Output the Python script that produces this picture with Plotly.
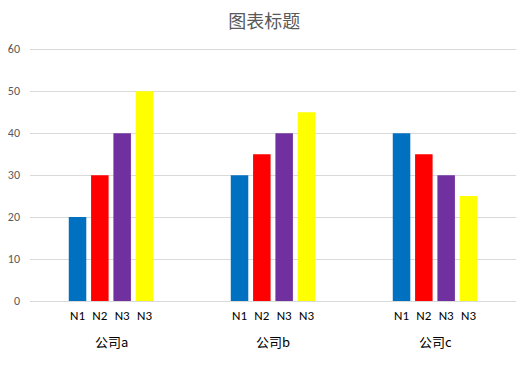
import plotly.graph_objects as go

companies = ["公司a", "公司b", "公司c"]
series_names = ["N1", "N2", "N3", "N3"]
series_values = [
    [20, 30, 40],
    [30, 35, 35],
    [40, 40, 30],
    [50, 45, 25],
]
series_colors = ["#0070C0", "#FF0000", "#7030A0", "#FFFF00"]
y_ticks = [0, 10, 20, 30, 40, 50, 60]

BARGAP = 0.449
BARGROUPGAP = 0.215
n_series = len(series_names)
pitch = (1 - BARGAP) / n_series

font_fam = "Carlito, Calibri, Liberation Sans, Noto Sans CJK SC, sans-serif"

W, H = 523, 363  # page body has an 8px margin

fig = go.Figure()
group_idx = list(range(len(companies)))
for i, (name, vals, col) in enumerate(zip(series_names, series_values, series_colors)):
    fig.add_trace(go.Bar(x=group_idx, y=vals, name=name, marker=dict(color=col, line=dict(width=0)),
                         offsetgroup=str(i)))

tickvals, ticktext = [], []
for g in group_idx:
    for i, name in enumerate(series_names):
        tickvals.append(g + (i - (n_series - 1) / 2) * pitch)
        ticktext.append(name)

for g, c in zip(group_idx, companies):
    fig.add_annotation(x=g, y=0, xref="x", yref="y", text=c, showarrow=False,
                       yanchor="middle", yshift=-40,
                       font=dict(size=13, color="#000000", family="Noto Sans CJK SC, sans-serif"))

fig.update_layout(
    width=W, height=H,
    margin=dict(l=22, r=15, t=40, b=70, autoexpand=False),
    paper_bgcolor="white", plot_bgcolor="white",
    barmode="group", bargap=BARGAP, bargroupgap=BARGROUPGAP,
    showlegend=False,
    title=dict(text="图表标题", x=0.49, xanchor="center", y=1 - 14 / H, yanchor="middle",
               font=dict(size=18, color="#595959", family="Noto Sans CJK SC, sans-serif")),
    xaxis=dict(range=[-0.5, 2.5], tickvals=tickvals, ticktext=ticktext, showgrid=False,
               zeroline=False, showline=False, ticks="", ticklabelstandoff=5, automargin=False,
               tickfont=dict(size=13, color="#000000", family=font_fam)),
    yaxis=dict(range=[0, 60.3], tickvals=y_ticks, showgrid=True, gridcolor="#D9D9D9", gridwidth=1,
               zeroline=True, zerolinecolor="#D9D9D9", zerolinewidth=1, showline=False,
               ticks="", ticklabelstandoff=9, automargin=False,
               tickfont=dict(size=12, color="#595959", family=font_fam)),
    font=dict(family=font_fam),
)

fig.write_html("out.html")
